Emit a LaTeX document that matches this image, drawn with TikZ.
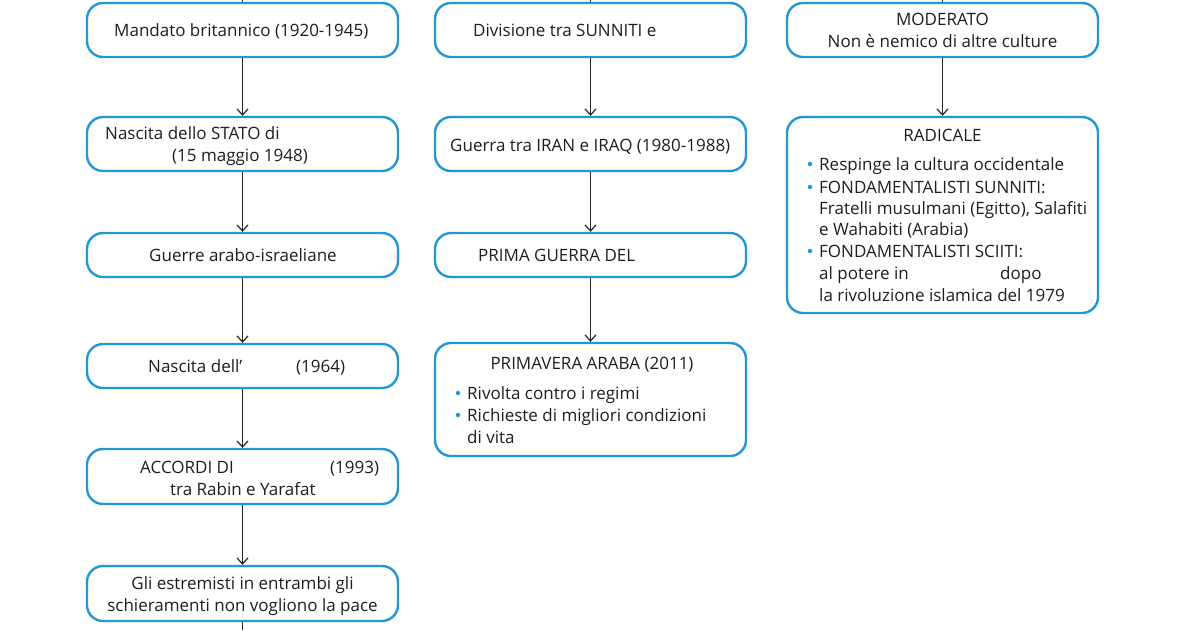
\documentclass[tikz,border=0pt]{standalone}
\usepackage{fontspec}
\setmainfont{Open Sans}[Ligatures=NoCommon]
\usetikzlibrary{arrows.meta}
\definecolor{boxblue}{RGB}{32,152,214}
\definecolor{txt}{RGB}{30,30,30}
\tikzset{
  x=1pt, y=-1pt,
  box/.style={draw=boxblue, line width=2.4pt, rounded corners=16pt, minimum width=311pt, inner sep=0pt, fill=white},
  lbl/.style={anchor=base west, inner sep=0pt, text=txt, font=\fontsize{17}{20}\selectfont},
  clbl/.style={anchor=base, inner sep=0pt, text=txt, font=\fontsize{17}{20}\selectfont},
  arr/.style={draw=black!85, line width=1.3pt, -{Straight Barb[length=6pt,width=11pt,line width=1.2pt]}},
  plain/.style={draw=black!85, line width=1.3pt},
  dot/.style={circle, fill=boxblue, inner sep=0pt, minimum size=4.5pt}
}
\begin{document}
\begin{tikzpicture}
\useasboundingbox (0,0) rectangle (1200,630);
% left column
\node[box, minimum height=54pt] (l1) at (242.5,30) {};
\node[box, minimum height=54pt] (l2) at (242.5,144) {};
\node[box, minimum height=44pt] (l3) at (242.5,255) {};
\node[box, minimum height=44pt] (l4) at (242.5,366) {};
\node[box, minimum height=55pt] (l5) at (242.5,476.5) {};
\node[box, minimum height=55pt] (l6) at (242.5,593.5) {};
% middle column
\node[box, minimum height=54pt] (m1) at (590.5,30) {};
\node[box, minimum height=54pt] (m2) at (590.5,144) {};
\node[box, minimum height=44pt] (m3) at (590.5,255) {};
\node[box, minimum height=113pt] (m4) at (590.5,399.5) {};
% right column
\node[box, minimum height=54pt] (r1) at (942.5,30) {};
\node[box, minimum height=196pt] (r2) at (942.5,215) {};
% free ends
\coordinate (lt) at (242.5,0);
\coordinate (lb) at (242.5,630);
\coordinate (mt) at (590.5,0);
\coordinate (rt) at (942.5,0);
% connectors
\draw[plain] (lt) -- (l1.north);
\draw[arr] (l1.south) -- (l2.north);
\draw[arr] (l2.south) -- (l3.north);
\draw[arr] (l3.south) -- (l4.north);
\draw[arr] (l4.south) -- (l5.north);
\draw[arr] (l5.south) -- (l6.north);
\draw[plain] (l6.south) -- (lb);
\draw[plain] (mt) -- (m1.north);
\draw[arr] (m1.south) -- (m2.north);
\draw[arr] (m2.south) -- (m3.north);
\draw[arr] (m3.south) -- (m4.north);
\draw[plain] (rt) -- (r1.north);
\draw[arr] (r1.south) -- (r2.north);
% left texts
\node[lbl] (t1) at (114,36) {Mandato britannico (1920-1945)};
\node[lbl] (t2) at (105,139) {Nascita dello STATO di};
\node[lbl] (t2b) at (172,161) {(15 maggio 1948)};
\node[lbl] (t3) at (149,261) {Guerre arabo-israeliane};
\node[lbl] (t4) at (148,372) {Nascita dell’};
\node[lbl] (t4b) at (296,372) {(1964)};
\node[lbl] (t5) at (140,473) {ACCORDI DI};
\node[lbl] (t5b) at (330,473) {(1993)};
\node[lbl] (t5c) at (170,495) {tra Rabin e Yarafat};
\node[clbl] (t6) at (242.5,589) {Gli estremisti in entrambi gli};
\node[clbl] (t6b) at (242.5,611) {schieramenti non vogliono la pace};
% middle texts
\node[lbl] (u1) at (473,36) {Divisione tra SUNNITI e};
\node[lbl] (u2) at (450,151) {Guerra tra IRAN e IRAQ (1980-1988)};
\node[lbl] (u3) at (478,261) {PRIMA GUERRA DEL};
\node[clbl] (u4) at (592,369) {PRIMAVERA ARABA (2011)};
\node[dot] (ud1) at (458,393) {};
\node[lbl] (u4a) at (467,399) {Rivolta contro i regimi};
\node[dot] (ud2) at (458,415) {};
\node[lbl] (u4b) at (467,421) {Richieste di migliori condizioni};
\node[lbl] (u4c) at (467,443) {di vita};
% right texts
\node[clbl] (v1) at (942.5,25) {MODERATO};
\node[clbl] (v1b) at (942.5,47) {Non è nemico di altre culture};
\node[clbl] (v2) at (942.5,141) {RADICALE};
\node[dot] (vd1) at (810,164) {};
\node[lbl] (v2a) at (819,170) {Respinge la cultura occidentale};
\node[dot] (vd2) at (810,187) {};
\node[lbl] (v2b) at (819,193) {FONDAMENTALISTI SUNNITI:};
\node[lbl] (v2c) at (819,214) {Fratelli musulmani (Egitto), Salafiti};
\node[lbl] (v2d) at (819,235) {e Wahabiti (Arabia)};
\node[dot] (vd3) at (810,251) {};
\node[lbl] (v2e) at (819,257) {FONDAMENTALISTI SCIITI:};
\node[lbl] (v2f) at (819,279) {al potere in};
\node[lbl] (v2g) at (1000,279) {dopo};
\node[lbl] (v2h) at (819,301) {la rivoluzione islamica del 1979};
\end{tikzpicture}
\end{document}
